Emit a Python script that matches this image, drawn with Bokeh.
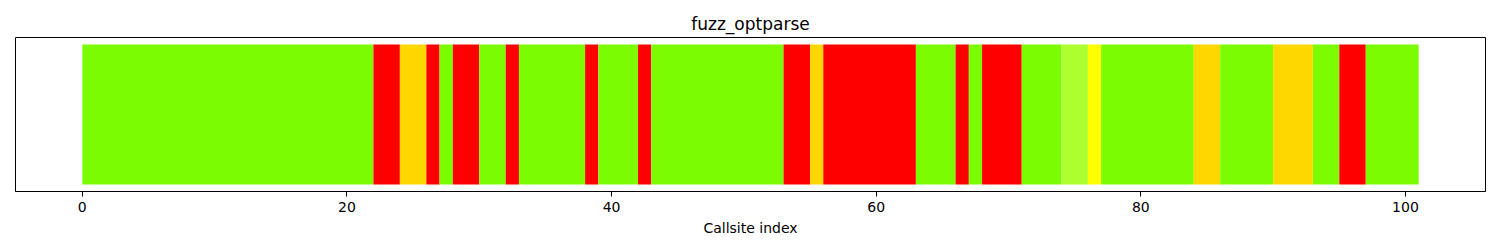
from bokeh.plotting import figure
from bokeh.models import Range1d, ColumnDataSource, FixedTicker
from bokeh.embed import file_html
from bokeh.resources import INLINE

title_text = "fuzz_optparse"
x_label = "Callsite index"

# per-callsite status: G=lawngreen, R=red, O=gold, L=greenyellow, Y=yellow
callsite_status = [
    "G", "G", "G", "G", "G", "G", "G", "G", "G", "G",
    "G", "G", "G", "G", "G", "G", "G", "G", "G", "G",
    "G", "G", "R", "R", "O", "O", "R", "G", "R", "R",
    "G", "G", "R", "G", "G", "G", "G", "G", "R", "G",
    "G", "G", "R", "G", "G", "G", "G", "G", "G", "G",
    "G", "G", "G", "R", "R", "O", "R", "R", "R", "R",
    "R", "R", "R", "G", "G", "G", "R", "G", "R", "R",
    "R", "G", "G", "G", "L", "L", "Y", "G", "G", "G",
    "G", "G", "G", "G", "O", "O", "G", "G", "G", "G",
    "O", "O", "O", "G", "G", "R", "R", "G", "G", "G",
    "G",
]
status_colors = {"G": "#7CFC00", "R": "#FF0000", "O": "#FFD700", "L": "#ADFF2F", "Y": "#FFFF00"}
x_ticks = [0, 20, 40, 60, 80, 100]

# merge consecutive callsites of the same status into runs (avoids hairline seams)
lefts, rights, colors = [], [], []
for i, s in enumerate(callsite_status):
    if colors and callsite_status[i - 1] == s:
        rights[-1] = i + 1
    else:
        lefts.append(i)
        rights.append(i + 1)
        colors.append(status_colors[s])

src = ColumnDataSource(dict(
    left=lefts, right=rights,
    bottom=[0] * len(lefts), top=[1] * len(lefts),
    color=colors,
))

n = len(callsite_status)
p = figure(width=1500, height=250, output_backend="svg", toolbar_location=None,
           x_range=Range1d(-0.05 * n, n * 1.05), y_range=Range1d(-0.05, 1.05),
           min_border_left=15, min_border_right=15, min_border_top=37, min_border_bottom=59)
p.quad(left="left", right="right", bottom="bottom", top="top", fill_color="color",
       line_color=None, source=src)

p.title.text = title_text
p.title.align = "center"
p.title.text_font = "DejaVu Sans"
p.title.text_font_size = "17px"
p.title.text_font_style = "normal"
p.title.text_color = "black"
p.title.standoff = 8

p.xgrid.visible = False
p.ygrid.visible = False
p.yaxis.visible = False
p.outline_line_color = "black"
p.outline_line_width = 1
p.outline_line_alpha = 1

ax = p.xaxis[0]
ax.ticker = FixedTicker(ticks=x_ticks)
ax.axis_label = x_label
ax.axis_label_text_font = "DejaVu Sans"
ax.axis_label_text_font_size = "14px"
ax.axis_label_text_font_style = "normal"
ax.axis_label_text_color = "black"
ax.axis_label_standoff = 5
ax.major_label_text_font = "DejaVu Sans"
ax.major_label_text_font_size = "14px"
ax.major_label_text_color = "black"
ax.major_label_standoff = 5
ax.major_tick_out = 5
ax.major_tick_in = 0
ax.minor_tick_line_color = None
ax.axis_line_color = "black"
ax.major_tick_line_color = "black"

open("out.html", "w").write(file_html(p, INLINE))
